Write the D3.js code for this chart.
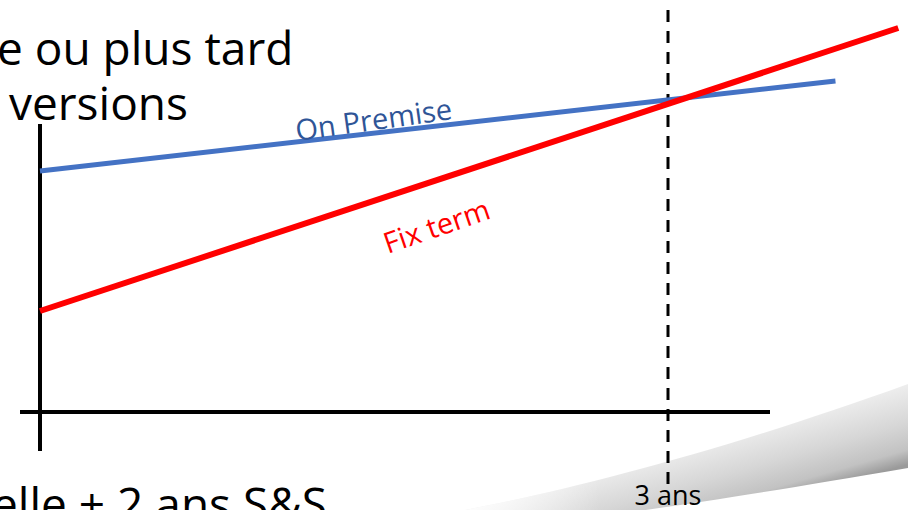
<!DOCTYPE html>
<html>
<head>
<meta charset="utf-8">
<script src="https://cdn.jsdelivr.net/npm/d3@7"></script>
<style>
  body { margin: 0; background: #fff; overflow: hidden; }
  svg { display: block; }
  text { font-family: "Open Sans", "Noto Sans", sans-serif; }
</style>
</head>
<body>
<div id="chart"></div>
<script>
// years on the x axis, cost on the y axis (arbitrary units)
var cutoffYear = 3;
var cutoffLabel = "3 ans";

var onPremiseYears = [0, 3.8];
var onPremiseCost = [241, 331];

var fixTermYears = [0, 4.1];
var fixTermCost = [101, 384];

var titleLines = ["e ou plus tard", "versions"];
var bottomText = "elle + 2 ans S&S";

var width = 908, height = 510;

var svg = d3.select("#chart").append("svg")
    .attr("width", width)
    .attr("height", height);

var x = d3.scaleLinear()
    .domain([0, 3])
    .range([40, 668]);

var y = d3.scaleLinear()
    .domain([0, 400])
    .range([412, 12]);

// gray swoosh bottom right
var defs = svg.append("defs");
var grad = defs.append("linearGradient")
    .attr("id", "swoosh")
    .attr("gradientUnits", "userSpaceOnUse")
    .attr("x1", 790).attr("y1", 415).attr("x2", 812).attr("y2", 492);
grad.append("stop").attr("offset", "0%").attr("stop-color", "#efefef");
grad.append("stop").attr("offset", "50%").attr("stop-color", "#d6d6d6");
grad.append("stop").attr("offset", "82%").attr("stop-color", "#c2c2c2");
grad.append("stop").attr("offset", "100%").attr("stop-color", "#9a9a9a");

var hGrad = defs.append("linearGradient")
    .attr("id", "swooshFade")
    .attr("gradientUnits", "userSpaceOnUse")
    .attr("x1", 450).attr("y1", 0).attr("x2", 600).attr("y2", 0);
hGrad.append("stop").attr("offset", "0%").attr("stop-color", "#fff").attr("stop-opacity", 1);
hGrad.append("stop").attr("offset", "100%").attr("stop-color", "#fff").attr("stop-opacity", 0);

var swooshPath = "M455,512 C570,490 720,452 908,384 L908,468 C780,490 690,504 610,515 Z";
svg.append("path").attr("d", swooshPath).attr("fill", "url(#swoosh)");
svg.append("path").attr("d", swooshPath).attr("fill", "url(#swooshFade)");

// axes
svg.append("line")
    .attr("x1", x(0)).attr("x2", x(0))
    .attr("y1", 124).attr("y2", 451)
    .attr("stroke", "#000").attr("stroke-width", 4);

svg.append("line")
    .attr("x1", 20).attr("x2", 770)
    .attr("y1", y(0)).attr("y2", y(0))
    .attr("stroke", "#000").attr("stroke-width", 4);

// cutoff dashed line
svg.append("line")
    .attr("x1", x(cutoffYear)).attr("x2", x(cutoffYear))
    .attr("y1", 10).attr("y2", 486)
    .attr("stroke", "#000").attr("stroke-width", 3)
    .attr("stroke-dasharray", "12,9");

svg.append("text")
    .attr("x", x(cutoffYear)).attr("y", 505)
    .attr("text-anchor", "middle")
    .attr("font-size", 27)
    .attr("fill", "#000")
    .text(cutoffLabel);

var line = d3.line().x(d => x(d[0])).y(d => y(d[1]));

svg.append("path")
    .datum(d3.zip(onPremiseYears, onPremiseCost))
    .attr("d", line)
    .attr("stroke", "#4472c4").attr("stroke-width", 5).attr("fill", "none");

svg.append("path")
    .datum(d3.zip(fixTermYears, fixTermCost))
    .attr("d", line)
    .attr("stroke", "#ff0000").attr("stroke-width", 6).attr("fill", "none");

// line labels
svg.append("text")
    .attr("transform", "translate(375,130) rotate(-8)")
    .attr("text-anchor", "middle")
    .attr("font-size", 29)
    .attr("fill", "#2f5597")
    .text("On Premise");

svg.append("text")
    .attr("transform", "translate(440,236) rotate(-19)")
    .attr("text-anchor", "middle")
    .attr("font-size", 29)
    .attr("fill", "#ff0000")
    .text("Fix term");

// cropped slide text
svg.append("text")
    .attr("x", -3).attr("y", 65)
    .attr("font-size", 46)
    .attr("fill", "#000")
    .text(titleLines[0]);

svg.append("text")
    .attr("x", 9).attr("y", 120)
    .attr("font-size", 46)
    .attr("fill", "#000")
    .text(titleLines[1]);

svg.append("text")
    .attr("x", -8).attr("y", 521)
    .attr("font-size", 46)
    .attr("fill", "#000")
    .text(bottomText);
</script>
</body>
</html>
